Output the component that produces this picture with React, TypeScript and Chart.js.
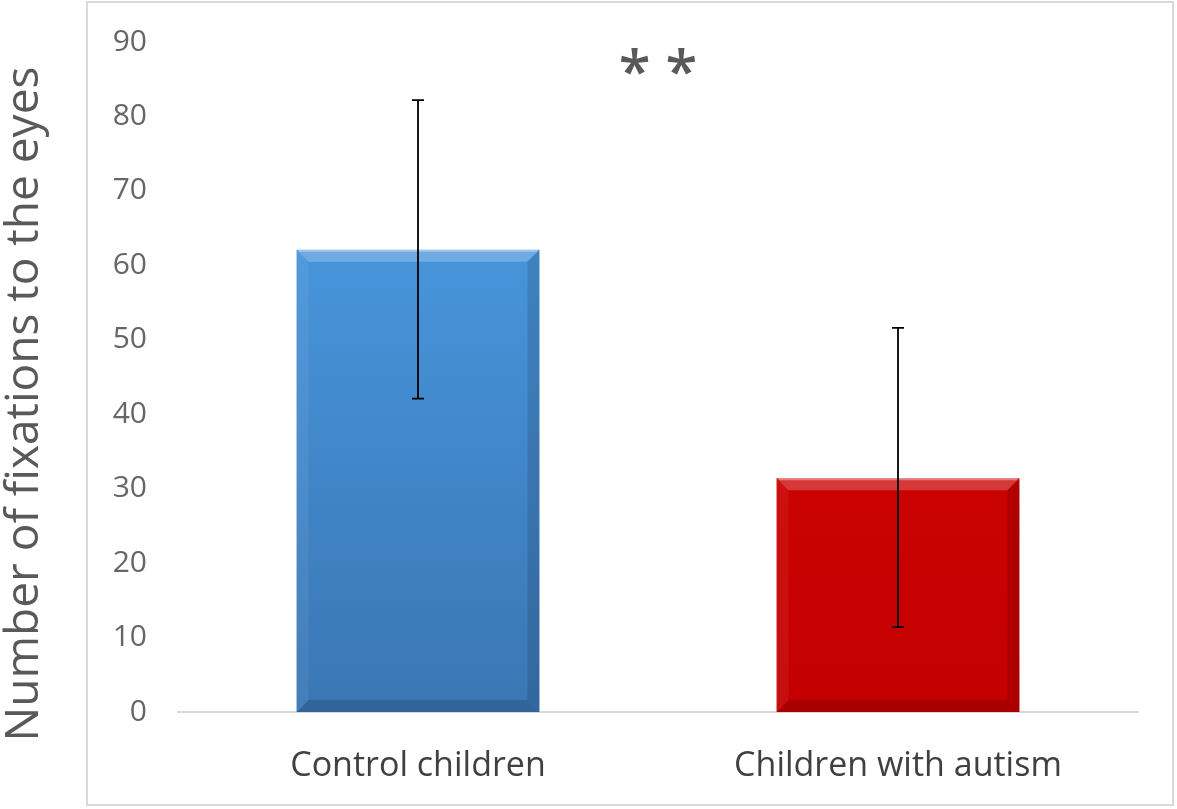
import React, { useEffect, useRef } from "react";
import { Chart, registerables } from "chart.js";

Chart.register(...registerables);

const categories = ["Control children", "Children with autism"];
const meanValues = [62.1, 31.4];
const errorUpper = [82.2, 51.6];
const errorLower = [42.1, 11.4];
const yTickMin = 0;
const yTickMax = 90;
const yTickStep = 10;
const yAxisTitle = "Number of fixations to the eyes";
const annotationText = "* *";
const annotationValue = 85.5;
const barTopColors = ["#4da2ec", "#d40404"];
const barBottomColors = ["#3a76b4", "#c40000"];

const FONT = "'Open Sans', 'Noto Sans', sans-serif";

const bevelPlugin = {
  id: "bevel",
  afterDatasetsDraw(chart: any) {
    const meta = chart.getDatasetMeta(0);
    const ctx = chart.ctx;
    ctx.save();
    meta.data.forEach((bar: any) => {
      const { x, y, base, width } = bar.getProps(["x", "y", "base", "width"], true);
      const L = x - width / 2;
      const R = x + width / 2;
      const T = Math.min(y, base);
      const B = Math.max(y, base);
      const b = 12;
      const poly = (pts: number[][], fill: string) => {
        ctx.beginPath();
        ctx.moveTo(pts[0][0], pts[0][1]);
        for (let i = 1; i < pts.length; i++) ctx.lineTo(pts[i][0], pts[i][1]);
        ctx.closePath();
        ctx.fillStyle = fill;
        ctx.fill();
      };
      poly([[L, T], [R, T], [R - b, T + b], [L + b, T + b]], "rgba(255,255,255,0.22)");
      poly([[L, T], [L + b, T + b], [L + b, B - b], [L, B]], "rgba(255,255,255,0.06)");
      poly([[R, T], [R, B], [R - b, B - b], [R - b, T + b]], "rgba(0,0,0,0.12)");
      poly([[L, B], [L + b, B - b], [R - b, B - b], [R, B]], "rgba(0,0,0,0.14)");
      ctx.fillStyle = "rgba(255,255,255,0.35)";
      ctx.fillRect(L + 2, T, width - 4, 2);
    });
    ctx.restore();
  },
};

const errorBarPlugin = {
  id: "errorBars",
  afterDatasetsDraw(chart: any) {
    const meta = chart.getDatasetMeta(0);
    const yScale = chart.scales.y;
    const ctx = chart.ctx;
    ctx.save();
    ctx.strokeStyle = "#000000";
    ctx.lineWidth = 1.8;
    meta.data.forEach((bar: any, i: number) => {
      const x = bar.x;
      const top = yScale.getPixelForValue(errorUpper[i]);
      const bot = yScale.getPixelForValue(errorLower[i]);
      const cap = 6;
      ctx.beginPath();
      ctx.moveTo(x, top);
      ctx.lineTo(x, bot);
      ctx.moveTo(x - cap, top);
      ctx.lineTo(x + cap, top);
      ctx.moveTo(x - cap, bot);
      ctx.lineTo(x + cap, bot);
      ctx.stroke();
    });
    ctx.restore();
  },
};

const annotationPlugin = {
  id: "significance",
  afterDraw(chart: any) {
    const { ctx, chartArea, scales } = chart;
    const x = (chartArea.left + chartArea.right) / 2;
    const y = scales.y.getPixelForValue(annotationValue);
    ctx.save();
    ctx.font = `600 58px ${FONT}`;
    ctx.fillStyle = "#595959";
    ctx.textAlign = "center";
    ctx.textBaseline = "middle";
    ctx.fillText(annotationText, x, y);
    ctx.restore();
  },
};

const yTitlePlugin = {
  id: "yTitle",
  afterDraw(chart: any) {
    const ctx = chart.ctx;
    ctx.save();
    ctx.translate(38, 404);
    ctx.rotate(-Math.PI / 2);
    ctx.font = `46px ${FONT}`;
    ctx.fillStyle = "#595959";
    ctx.textAlign = "center";
    ctx.textBaseline = "alphabetic";
    ctx.fillText(yAxisTitle, 0, 0);
    ctx.restore();
  },
};

export default function App() {
  const canvasRef = useRef<HTMLCanvasElement | null>(null);

  useEffect(() => {
    if (!canvasRef.current) return;
    const chart = new Chart(canvasRef.current, {
      type: "bar",
      data: {
        labels: categories,
        datasets: [
          {
            data: meanValues,
            backgroundColor: (context: any) => {
              const { chart, dataIndex } = context;
              const area = chart.chartArea;
              if (!area) return barTopColors[dataIndex];
              const g = chart.ctx.createLinearGradient(0, area.top, 0, area.bottom);
              g.addColorStop(0, barTopColors[dataIndex]);
              g.addColorStop(1, barBottomColors[dataIndex]);
              return g;
            },
            borderWidth: 0,
            barPercentage: 0.506,
            categoryPercentage: 1,
          },
        ],
      },
      options: {
        responsive: false,
        animation: false,
        layout: { padding: { top: 42, right: 39, bottom: 0, left: 0 } },
        plugins: {
          legend: { display: false },
          tooltip: { enabled: false },
        },
        scales: {
          x: {
            grid: { display: false },
            border: { display: true, color: "#d9d9d9", width: 2 },
            ticks: {
              color: "#404040",
              font: { family: FONT, size: 34 },
              padding: 26,
              maxRotation: 0,
            },
            afterFit: (scale: any) => {
              scale.height = 97;
            },
          },
          y: {
            min: yTickMin,
            max: yTickMax,
            grid: { display: false, drawTicks: false },
            border: { display: false },
            ticks: {
              stepSize: yTickStep,
              color: "#666666",
              font: { family: FONT, size: 30 },
              padding: 31,
            },
            title: { display: false },
            afterFit: (scale: any) => {
              scale.width = 178;
              scale.paddingTop = 0;
              scale.paddingBottom = 0;
            },
          },
        },
      },
      plugins: [bevelPlugin, errorBarPlugin, annotationPlugin, yTitlePlugin],
    });
    return () => chart.destroy();
  }, []);

  return (
    <div style={{ position: "fixed", left: 0, top: 0, width: 1177, height: 809, background: "#ffffff" }}>
      <canvas ref={canvasRef} width={1177} height={809} style={{ display: "block" }} />
      <div
        style={{
          position: "absolute",
          left: 86,
          top: 1,
          width: 1174 - 86,
          height: 806 - 1,
          border: "2px solid #d9d9d9",
          boxSizing: "border-box",
          pointerEvents: "none",
        }}
      />
    </div>
  );
}
